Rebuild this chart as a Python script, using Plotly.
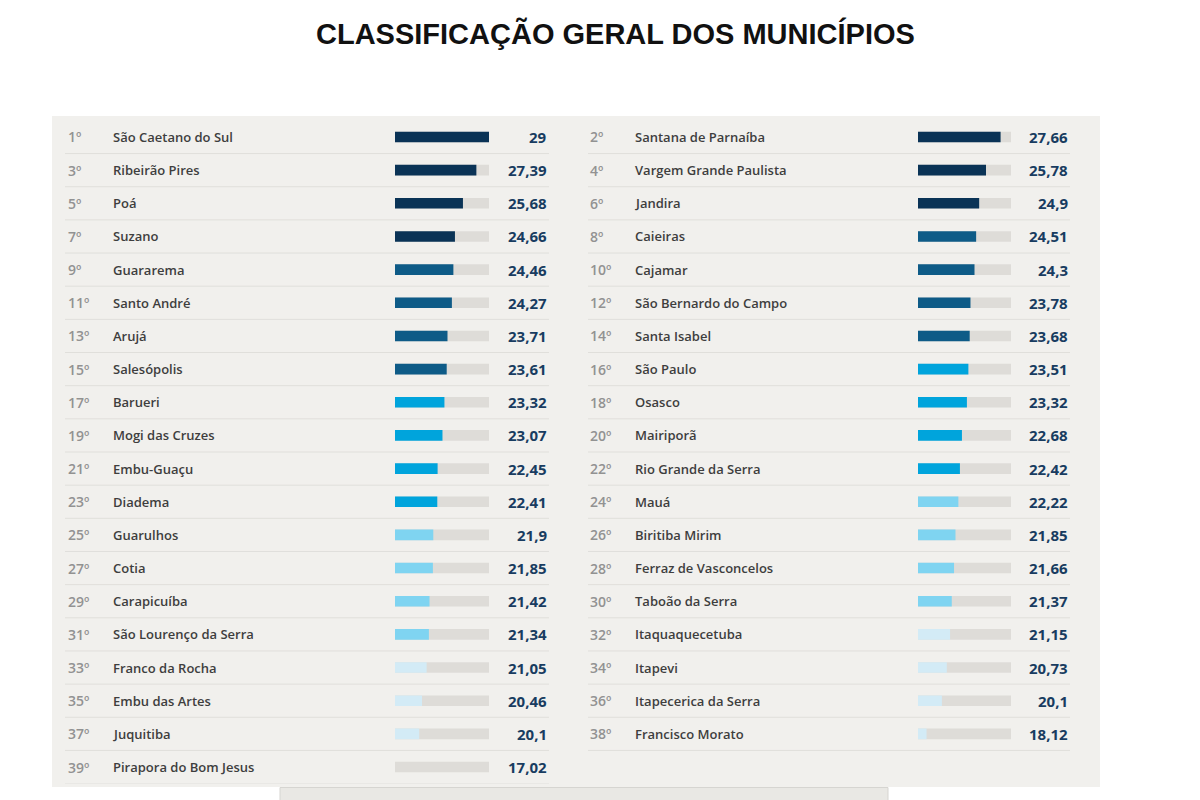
import plotly.graph_objects as go

# ---------------- data ----------------
title_text = "CLASSIFICAÇÃO GERAL DOS MUNICÍPIOS"

left_ranks = [1, 3, 5, 7, 9, 11, 13, 15, 17, 19, 21, 23, 25, 27, 29, 31, 33, 35, 37, 39]
left_names = ["São Caetano do Sul", "Ribeirão Pires", "Poá", "Suzano", "Guararema",
              "Santo André", "Arujá", "Salesópolis", "Barueri", "Mogi das Cruzes",
              "Embu-Guaçu", "Diadema", "Guarulhos", "Cotia", "Carapicuíba",
              "São Lourenço da Serra", "Franco da Rocha", "Embu das Artes", "Juquitiba",
              "Pirapora do Bom Jesus"]
left_values = [29, 27.39, 25.68, 24.66, 24.46, 24.27, 23.71, 23.61, 23.32, 23.07,
               22.45, 22.41, 21.9, 21.85, 21.42, 21.34, 21.05, 20.46, 20.1, 17.02]

right_ranks = [2, 4, 6, 8, 10, 12, 14, 16, 18, 20, 22, 24, 26, 28, 30, 32, 34, 36, 38]
right_names = ["Santana de Parnaíba", "Vargem Grande Paulista", "Jandira", "Caieiras",
               "Cajamar", "São Bernardo do Campo", "Santa Isabel", "São Paulo", "Osasco",
               "Mairiporã", "Rio Grande da Serra", "Mauá", "Biritiba Mirim",
               "Ferraz de Vasconcelos", "Taboão da Serra", "Itaquaquecetuba", "Itapevi",
               "Itapecerica da Serra", "Francisco Morato"]
right_values = [27.66, 25.78, 24.9, 24.51, 24.3, 23.78, 23.68, 23.51, 23.32, 22.68,
                22.42, 22.22, 21.85, 21.66, 21.37, 21.15, 20.73, 20.1, 18.12]

scale_min = 17.02
scale_max = 29

# ---------------- styles ----------------
W, H = 1200, 800
OFF = 8  # page body margin offset
def px(x):
    return (x - OFF) / W
def py(y):
    return 1 - (y - OFF) / H

def tier_color(rank):
    if rank <= 7:
        return "#0a3356"
    if rank <= 15:
        return "#0e5b87"
    if rank <= 23:
        return "#00a4dc"
    if rank <= 31:
        return "#7fd4f1"
    return "#d3ebf6"

def fmt(v):
    return f"{v:g}".replace(".", ",")

TRACK = "#dedcd8"
PANEL = "#f1f0ed"
LINE = "#e0dfdb"
NAME_FONT = "Open Sans"

n_rows = len(left_ranks)
row_top, row_h = 120.4, 33.16

fig = go.Figure()

columns = [
    dict(ranks=left_ranks, names=left_names, values=left_values, xa="x", ya="y",
         rank_x=66, name_x=111, bar=(395, 489), val_x=549, line=(65, 549)),
    dict(ranks=right_ranks, names=right_names, values=right_values, xa="x2", ya="y",
         rank_x=588, name_x=633, bar=(918, 1011), val_x=1070, line=(588, 1070)),
]

annotations = []
shapes = []

# panel background
shapes.append(dict(type="rect", xref="paper", yref="paper", x0=px(52), x1=px(1100),
                   y0=py(787), y1=py(116), fillcolor=PANEL, line_width=0, layer="below"))
shapes.append(dict(type="rect", xref="paper", yref="paper", x0=px(280), x1=px(888),
                   y0=py(808), y1=py(787.5), fillcolor="#e9e8e4",
                   line=dict(color="#d6d5d1", width=1), layer="below"))

for col in columns:
    rows = list(range(len(col["ranks"])))
    # track
    fig.add_trace(go.Bar(
        x=[scale_max] * len(rows), y=rows, orientation="h", base=0,
        marker=dict(color=TRACK, line_width=0), width=0.32,
        xaxis=col["xa"], yaxis=col["ya"], hoverinfo="skip", showlegend=False))
    # values
    fig.add_trace(go.Bar(
        x=col["values"], y=rows, orientation="h", base=0,
        marker=dict(color=[tier_color(r) for r in col["ranks"]], line_width=0), width=0.32,
        xaxis=col["xa"], yaxis=col["ya"], showlegend=False,
        hovertext=col["names"], hoverinfo="text+x"))
    for i, (r, n, v) in enumerate(zip(col["ranks"], col["names"], col["values"])):
        annotations.append(dict(x=px(col["rank_x"]), y=i, xref="paper", yref="y",
                                text=f"{r}º", showarrow=False, xanchor="left",
                                font=dict(family=NAME_FONT, size=14, color="#929292",
                                          weight=600)))
        annotations.append(dict(x=px(col["name_x"]), y=i, xref="paper", yref="y",
                                text=n, showarrow=False, xanchor="left",
                                font=dict(family=NAME_FONT, size=13, color="#3e3e3e",
                                          weight=600)))
        annotations.append(dict(x=px(col["val_x"]), y=i, xref="paper", yref="y",
                                text=f"<b>{fmt(v)}</b>", showarrow=False, xanchor="right",
                                font=dict(family=NAME_FONT, size=15, color="#183c60")))
        shapes.append(dict(type="line", xref="paper", yref="y",
                           x0=px(col["line"][0]), x1=px(col["line"][1]),
                           y0=i + 0.5, y1=i + 0.5, line=dict(color=LINE, width=1)))

annotations.append(dict(x=px(615), y=py(34), xref="paper", yref="paper",
                        text=f"<b>{title_text}</b>", showarrow=False,
                        xanchor="center", yanchor="middle",
                        font=dict(family="Liberation Sans", size=29, color="#111111")))

y_domain = [py(row_top + n_rows * row_h), py(row_top)]

fig.update_layout(
    width=W, height=H,
    margin=dict(l=0, r=0, t=0, b=0),
    paper_bgcolor="white", plot_bgcolor="rgba(0,0,0,0)",
    barmode="overlay",
    annotations=annotations, shapes=shapes,
    xaxis=dict(domain=[px(395), px(489)], range=[scale_min, scale_max], visible=False,
               fixedrange=True),
    xaxis2=dict(domain=[px(918), px(1011)], range=[scale_min, scale_max], visible=False,
                anchor="y", fixedrange=True),
    yaxis=dict(domain=y_domain, range=[n_rows - 0.5, -0.5], visible=False, fixedrange=True),
)

fig.write_html("out.html")
